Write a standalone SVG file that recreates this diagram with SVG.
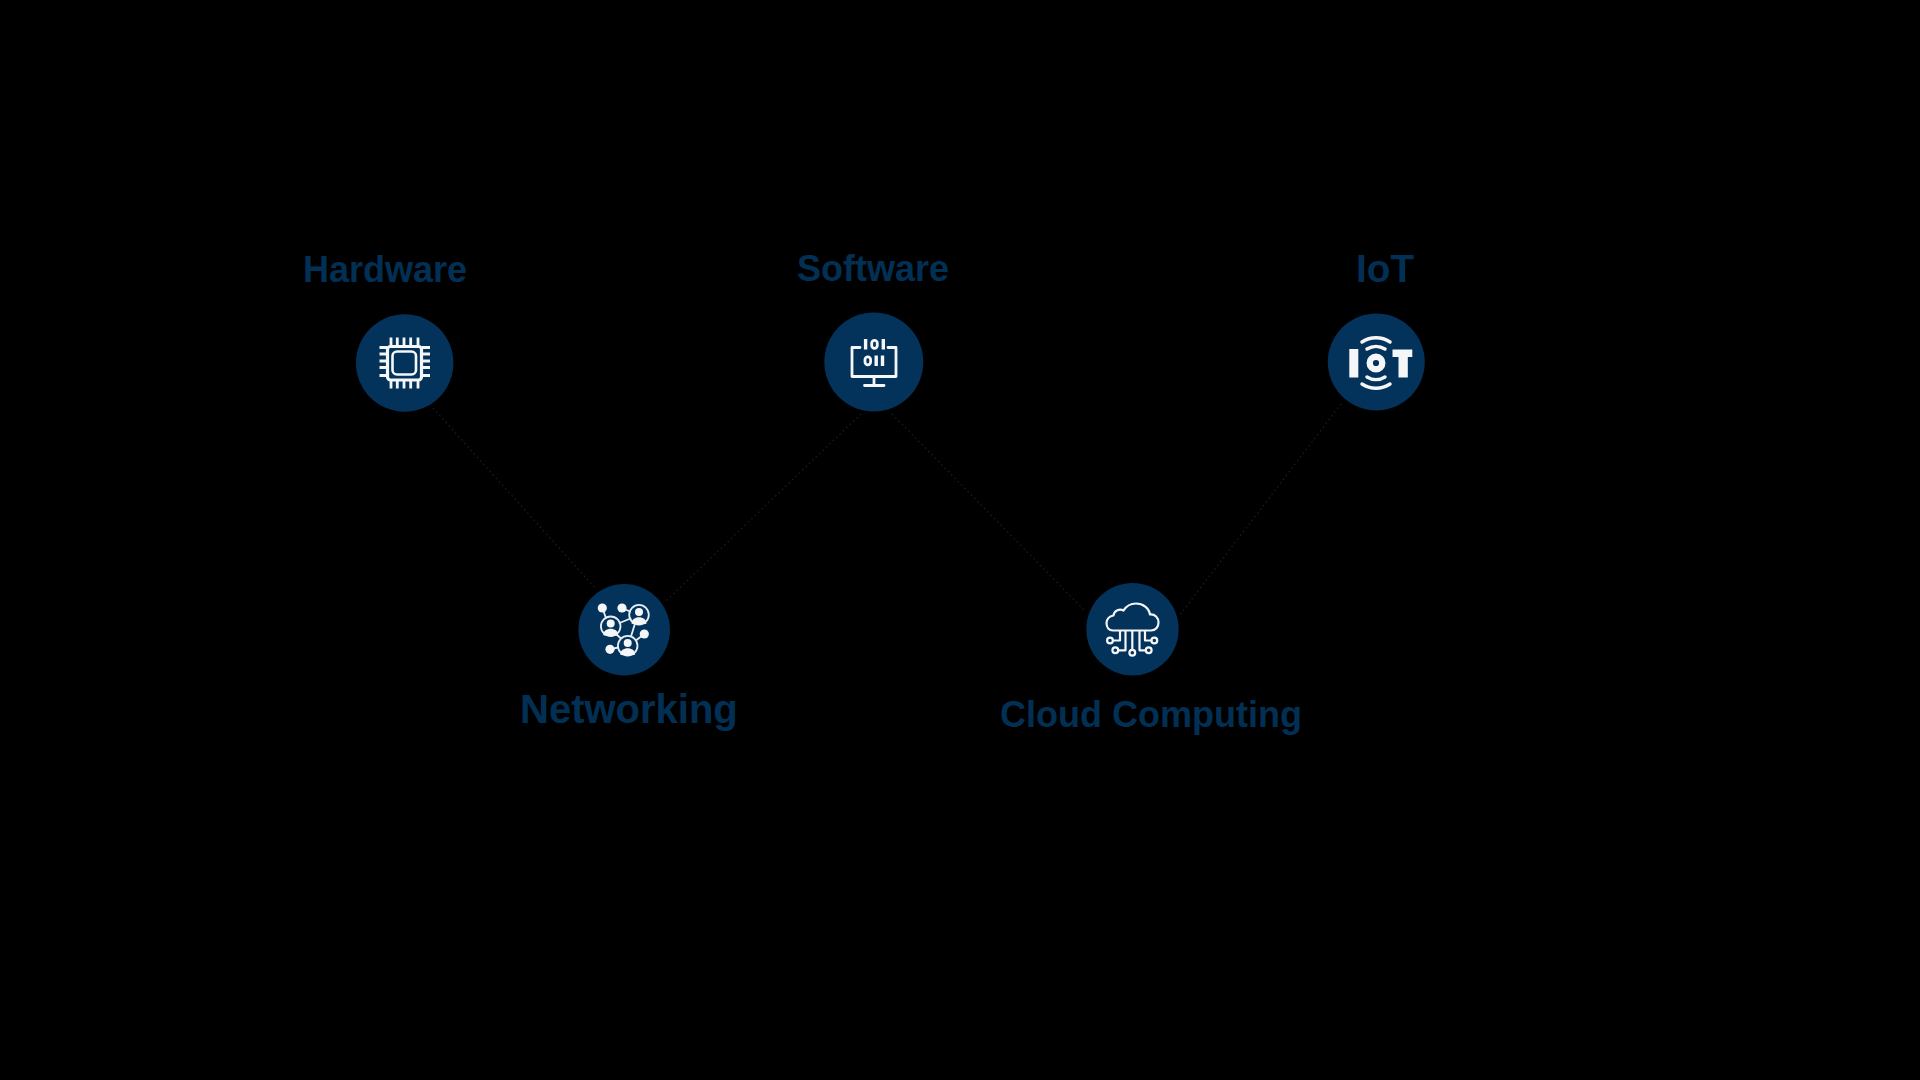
<svg xmlns="http://www.w3.org/2000/svg" width="1920" height="1080" viewBox="0 0 1920 1080">
<style>
.bg{fill:#000}
.disc{fill:#03325a}
.label{font-family:"Liberation Sans",Arial,sans-serif;font-weight:700;fill:#023054}
.ic{fill:none;stroke:#f4f6f8;stroke-width:2.8;stroke-linecap:round;stroke-linejoin:round}
.ic2{fill:none;stroke:#e8eef3;stroke-width:1.8;stroke-linecap:round;stroke-linejoin:round}
.sol{fill:#f4f6f8}
.conn{fill:none;stroke:#161e24;stroke-width:1.3;stroke-dasharray:1.5 3.2}
</style>
<rect class="bg" width="1920" height="1080"/>
<g id="connectors">
<line class="conn" x1="433" y1="408" x2="596" y2="589"/>
<line class="conn" x1="861" y1="414" x2="665" y2="602"/>
<line class="conn" x1="892" y1="414" x2="1086" y2="612"/>
<line class="conn" x1="1341" y1="404" x2="1179" y2="616"/>
</g>
<g id="node-hardware">
<circle class="disc" cx="404.7" cy="363" r="48.7"/>
<rect class="ic" style="stroke-width:3.2" x="387.500" y="346.500" width="34" height="33.500" rx="3"/>
<rect class="ic" style="stroke-width:2.6" x="392.500" y="351.500" width="23.500" height="23" rx="4.500"/>
<path class="ic" style="stroke-linecap:butt" d="M391 337.500V345.500M397.300 337.500V345.500M404 337.500V345.500M410.700 337.500V345.500M418 337.500V345.500M391 381V388.500M397.300 381V388.500M404 381V388.500M410.700 381V388.500M418 381V388.500M379.500 347.500H387M379.500 354H387M379.500 361H387M379.500 367.500H387M379.500 375.500H387M422 347.500H430M422 354H430M422 361H430M422 367.500H430M422 375.500H430"/>
<text class="label" x="303" y="281.500" font-size="36">Hardware</text>
</g>
<g id="node-software">
<circle class="disc" cx="873.800" cy="362" r="49.500"/>
<path class="ic" d="M860 347.500H852V376.500H896V347.500H888"/>
<path class="ic" d="M874 376.500V385M864.500 385.500H884"/>
<path class="ic" style="stroke-width:3.400;stroke-linecap:butt" d="M865.600 339V349.500M883.300 339V349.500M876.200 355.500V366M882.500 355.500V366"/>
<rect class="ic" style="stroke-width:2.800" x="871.700" y="340.400" width="5.600" height="8" rx="2.800"/>
<rect class="ic" style="stroke-width:2.800" x="865" y="356.900" width="5.600" height="8" rx="2.800"/>
<text class="label" x="797" y="280.500" font-size="36">Software</text>
</g>
<g id="node-iot">
<circle class="disc" cx="1376.300" cy="362" r="48.500"/>
<rect class="sol" x="1349.300" y="349" width="9" height="28.500"/>
<path class="sol" d="M1392.500 349.500H1412.300V357H1407.800V377.500H1398.500V357H1392.500Z"/>
<circle cx="1376" cy="363" r="6.300" fill="none" stroke="#f4f6f8" stroke-width="6.400"/>
<path fill="none" stroke="#f4f6f8" stroke-width="3.500" stroke-linecap="round" d="M1367 349A17 17 0 0 1 1385 349M1362 342A25.500 25.500 0 0 1 1390 342M1367 377A17 17 0 0 0 1385 377M1362 384A25.500 25.500 0 0 0 1390 384"/>
<text class="label" x="1356" y="282" font-size="38.700">IoT</text>
</g>
<g id="node-networking">
<circle class="disc" cx="624.200" cy="629.800" r="45.800"/>
<path class="ic2" d="M602.300 608L606 618M622 608L630 611.500M619.500 623L630.500 618.500M635 623.500L631 636.500M616.500 634.500L620.500 638M610 649.300L618 647.500M644.300 634L636.500 640"/>
<circle class="ic2" cx="639" cy="614.700" r="9.800"/>
<circle class="ic2" cx="610.700" cy="626.300" r="9.800"/>
<circle class="ic2" cx="627.700" cy="645.700" r="9.800"/>
<g class="sol">
<circle cx="602.300" cy="608" r="4.600"/><circle cx="622" cy="608" r="4.600"/><circle cx="644.300" cy="634" r="4.600"/><circle cx="610" cy="649.300" r="4.600"/>
<circle cx="639" cy="612" r="4"/><path d="M631.500 623.500C631.500 615 646.500 615 646.500 623.500C644 625 634 625 631.500 623.500Z"/>
<circle cx="610.700" cy="623.600" r="4"/><path d="M603.200 635.100C603.200 626.600 618.200 626.600 618.200 635.100C615.700 636.600 605.700 636.600 603.200 635.100Z"/>
<circle cx="627.700" cy="643" r="4"/><path d="M620.200 654.500C620.200 646 635.200 646 635.200 654.500C632.700 656 622.700 656 620.200 654.500Z"/>
</g>
<text class="label" x="520" y="722.800" font-size="40">Networking</text>
</g>
<g id="node-cloud-computing">
<circle class="disc" cx="1132.500" cy="629.200" r="46.200"/>
<path class="ic" style="stroke-width:2.200" d="M1113 630.500H1151C1156 630.500 1158.500 626.500 1158.500 622.500C1158.500 617.500 1155 614 1150 614.500C1149 608 1143 603.500 1136 603.500C1130 603.500 1126 606.500 1123.500 610.500C1120 608.500 1114 610 1113.500 615.500C1109 616 1106.500 619.500 1106.500 623C1106.500 627.500 1109 630.500 1113 630.500Z"/>
<path class="ic" style="stroke-width:2.200" d="M1120 631V640.500H1113M1125.500 631V650.300H1118M1132.300 631V649.500M1139.500 631V650.300H1146M1145 631V640.500H1151.500"/>
<g fill="none" stroke="#f4f6f8" stroke-width="2.200"><circle cx="1110" cy="640.500" r="2.900"/><circle cx="1115.300" cy="650.300" r="2.900"/><circle cx="1132.300" cy="652.700" r="2.900"/><circle cx="1148.700" cy="650.300" r="2.900"/><circle cx="1154.300" cy="640.500" r="2.900"/></g>
<text class="label" x="1000" y="727.200" font-size="36">Cloud Computing</text>
</g>
</svg>
